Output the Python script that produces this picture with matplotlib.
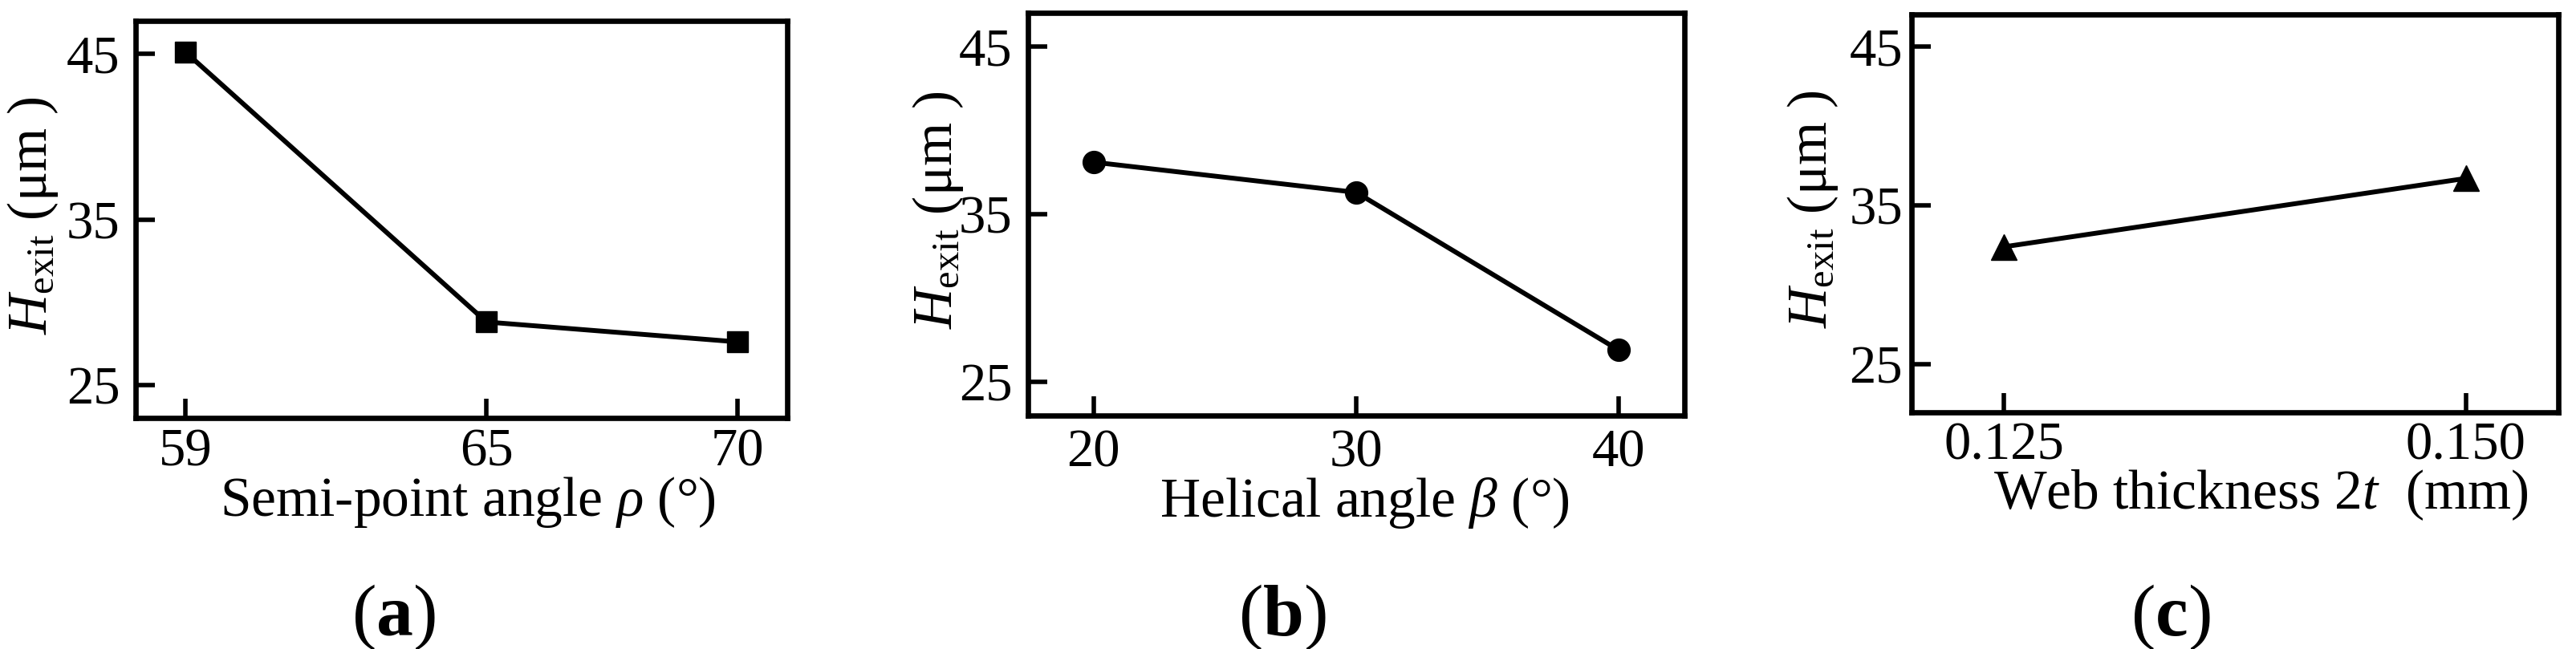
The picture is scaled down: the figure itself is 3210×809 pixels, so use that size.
import matplotlib
matplotlib.use('Agg')
import matplotlib.pyplot as plt

# data
rho_angle = [59, 65, 70]
h_rho = [45.1, 28.8, 27.6]

beta_angle = [20, 30, 40]
h_beta = [38.1, 36.3, 26.9]

web_2t = [0.125, 0.150]
h_web = [32.4, 36.7]

y_ticks = [25, 35, 45]

plt.rcParams['font.family'] = ['Liberation Serif', 'DejaVu Serif']
plt.rcParams['mathtext.fontset'] = 'custom'
plt.rcParams['mathtext.rm'] = 'Liberation Serif'
plt.rcParams['mathtext.it'] = 'Liberation Serif:italic'
plt.rcParams['mathtext.bf'] = 'Liberation Serif:bold'

W, H = 3210, 809
fig = plt.figure(figsize=(W / 100, H / 100), dpi=100, facecolor='white')


def add_box(left, right, top, bottom):
    # pixel box (origin top-left) -> figure fraction
    return fig.add_axes([left / W, 1 - bottom / H,
                         (right - left) / W, (bottom - top) / H])


ylab = r'$H_{\mathrm{exit}}$ (μm )'

# %% panels
panels = [
    dict(box=(169, 981, 26, 521), x=rho_angle, y=h_rho, marker='s', ms=18.5,
         xlim=(58, 71), ylim=(23, 47), xticks=rho_angle,
         xticklabels=[str(v) for v in rho_angle],
         xlabel=r'Semi-point angle $\rho$ (°)', ylx=-0.158, xlx=0.51,
         ypad=14, xpad=9, tag='a', tagx=490),
    dict(box=(1281, 2099, 16, 518), x=beta_angle, y=h_beta, marker='o', ms=20,
         xlim=(17.5, 42.5), ylim=(23, 47), xticks=beta_angle,
         xticklabels=[str(v) for v in beta_angle],
         xlabel=r'Helical angle $\beta$ (°)', ylx=-0.137, xlx=0.513,
         ypad=14, xpad=12, tag='b', tagx=1598),
    dict(box=(2382, 3188, 18, 514), x=web_2t, y=h_web, marker='^', ms=23,
         xlim=(0.120, 0.155), ylim=(22, 47), xticks=web_2t,
         xticklabels=['%.3f' % v for v in web_2t],
         xlabel=r'Web thickness 2$t$  (mm)', ylx=-0.152, xlx=0.54,
         ypad=8, xpad=8, tag='c', tagx=2705),
]

for p in panels:
    ax = add_box(*p['box'])
    ax.plot(p['x'], p['y'], color='black', lw=4.3,
            marker=p['marker'], ms=p['ms'], mfc='black', mec='black')
    ax.set_xlim(*p['xlim'])
    ax.set_ylim(*p['ylim'])
    ax.set_xticks(p['xticks'])
    ax.set_xticklabels(p['xticklabels'])
    ax.set_yticks(y_ticks)
    for s in ax.spines.values():
        s.set_linewidth(4.8)
    ax.tick_params(direction='in', length=17, width=4.0, labelsize=48)
    ax.tick_params(axis='y', pad=p['ypad'])
    ax.tick_params(axis='x', pad=p['xpad'])

    ax.set_xlabel(p['xlabel'], fontsize=50, labelpad=-2)
    ax.xaxis.label.set_x(p['xlx'])
    ax.set_ylabel(ylab, fontsize=50, va='center')
    ax.yaxis.set_label_coords(p['ylx'], 0.51)

    fig.text(p['tagx'] / W, 1 - 770 / H, r'($\mathbf{%s}$)' % p['tag'],
             fontsize=66, ha='center', va='center')

fig.savefig('out.png', dpi=100, facecolor='white')
